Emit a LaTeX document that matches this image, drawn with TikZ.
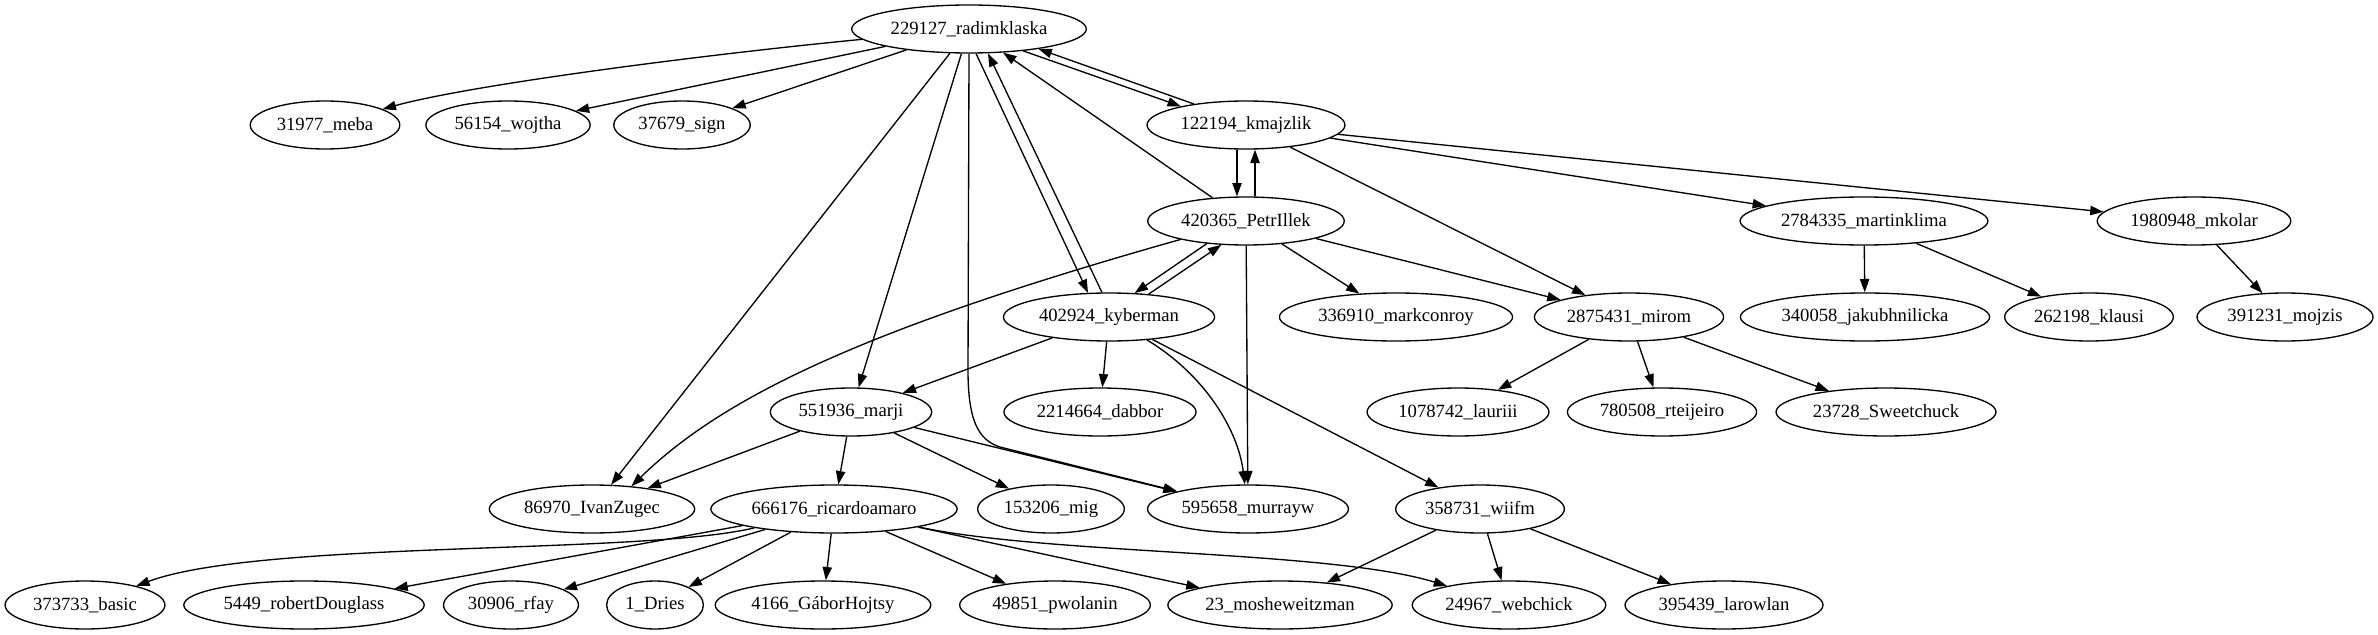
\documentclass[tikz,border=0pt]{standalone}
\usepackage{fontspec}
\setmainfont{Liberation Serif}
\usepackage{xcolor}
\usepackage{tikz}
\usetikzlibrary{
  arrows.meta,
  shapes,
  shapes.geometric,
  calc
}
\tikzset{
  user/.style={
    draw, ellipse, line width=1pt, minimum height=36pt, minimum width=54pt,
    inner xsep=3.5pt, inner ysep=2pt, font=\fontsize{14}{16}\selectfont
  },
  follows/.style={-{Triangle[length=10pt, width=7pt]}, line width=1pt}
}

\begin{document}
\begin{tikzpicture}[x=0.75pt, y=-0.75pt]
  \useasboundingbox (0,0) rectangle (2378,635);
  \node[user] (radim) at (969,29) {229127\_radimklaska};
  \node[user] (meba) at (325,125) {31977\_meba};
  \node[user] (wojtha) at (508,125) {56154\_wojtha};
  \node[user] (sign) at (682,125) {37679\_sign};
  \node[user] (kmajzlik) at (1246,125) {122194\_kmajzlik};
  \node[user] (petr) at (1246,221) {420365\_PetrIllek};
  \node[user] (martinklima) at (1864,221) {2784335\_martinklima};
  \node[user] (mkolar) at (2194,221) {1980948\_mkolar};
  \node[user] (kyberman) at (1109,317) {402924\_kyberman};
  \node[user] (markconroy) at (1396,317) {336910\_markconroy};
  \node[user] (mirom) at (1629,317) {2875431\_mirom};
  \node[user] (jakub) at (1865,317) {340058\_jakubhnilicka};
  \node[user] (klausi) at (2089,317) {262198\_klausi};
  \node[user] (mojzis) at (2285,317) {391231\_mojzis};
  \node[user] (marji) at (851,412) {551936\_marji};
  \node[user] (dabbor) at (1100,412) {2214664\_dabbor};
  \node[user] (lauriii) at (1458,412) {1078742\_lauriii};
  \node[user] (rteijeiro) at (1662,412) {780508\_rteijeiro};
  \node[user] (sweetchuck) at (1886,412) {23728\_Sweetchuck};
  \node[user] (ivan) at (592,509) {86970\_IvanZugec};
  \node[user] (ricardo) at (834,509) {666176\_ricardoamaro};
  \node[user] (mig) at (1051,509) {153206\_mig};
  \node[user] (murrayw) at (1248,509) {595658\_murrayw};
  \node[user] (wiifm) at (1480,509) {358731\_wiifm};
  \node[user] (basic) at (85,605) {373733\_basic};
  \node[user] (robert) at (304,605) {5449\_robertDouglass};
  \node[user] (rfay) at (511,605) {30906\_rfay};
  \node[user] (dries) at (655,605) {1\_Dries};
  \node[user] (gabor) at (823,605) {4166\_GáborHojtsy};
  \node[user] (pwolanin) at (1055,605) {49851\_pwolanin};
  \node[user] (moshe) at (1280,605) {23\_mosheweitzman};
  \node[user] (webchick) at (1509,605) {24967\_webchick};
  \node[user] (larowlan) at (1724,605) {395439\_larowlan};

  \draw[follows] (radim) .. controls (700,55) and (470,85) .. (meba);
  \draw[follows] (radim) -- (wojtha);
  \draw[follows] (radim) -- (sign);
  \draw[follows] (radim.-22) -- (kmajzlik.164);
  \draw[follows] (kmajzlik.158) -- (radim.-16);
  \draw[follows] (radim.-74) -- (kyberman.131);
  \draw[follows] (kyberman.106) -- (radim.-52);
  \draw[follows] (radim) -- (ivan);
  \draw[follows] (radim) -- (marji);
  \draw[follows] (radim.south) -- (968,370) .. controls (968,420) and (978,440) .. (1000,447) -- (murrayw.166);

  \draw[follows] ([xshift=-6.75pt]kmajzlik.south) -- ([xshift=-6.75pt]petr.north);
  \draw[follows] ([xshift=6.75pt]petr.north) -- ([xshift=6.75pt]kmajzlik.south);
  \draw[follows] (kmajzlik) -- (martinklima);
  \draw[follows] (kmajzlik) -- (mkolar);
  \draw[follows] (kmajzlik) -- (mirom);

  \draw[follows] (petr) -- (radim);
  \draw[follows] (petr.210) -- (kyberman.43);
  \draw[follows] (kyberman.30) -- (petr.224);
  \draw[follows] (petr) -- (markconroy);
  \draw[follows] (petr) -- (mirom);
  \draw[follows] (petr) -- (murrayw);
  \draw[follows] (petr) .. controls (870,327) and (725,395) .. (ivan.30);

  \draw[follows] (martinklima) -- (jakub);
  \draw[follows] (martinklima) -- (klausi);
  \draw[follows] (mkolar) -- (mojzis);

  \draw[follows] (kyberman) -- (marji);
  \draw[follows] (kyberman) -- (dabbor);
  \draw[follows] (kyberman) .. controls (1205,375) and (1238,430) .. (murrayw);
  \draw[follows] (kyberman) -- (wiifm);

  \draw[follows] (mirom) -- (lauriii);
  \draw[follows] (mirom) -- (rteijeiro);
  \draw[follows] (mirom) -- (sweetchuck);

  \draw[follows] (marji) -- (ivan);
  \draw[follows] (marji) -- (ricardo);
  \draw[follows] (marji) -- (mig);
  \draw[follows] (marji) -- (murrayw);

  \draw[follows] (ricardo) .. controls (640,555) and (260,540) .. (basic);
  \draw[follows] (ricardo) -- (robert);
  \draw[follows] (ricardo) -- (rfay);
  \draw[follows] (ricardo) -- (dries);
  \draw[follows] (ricardo) -- (gabor);
  \draw[follows] (ricardo) -- (pwolanin);
  \draw[follows] (ricardo) -- (moshe);
  \draw[follows] (ricardo) .. controls (1050,555) and (1330,550) .. (webchick);

  \draw[follows] (wiifm) -- (moshe);
  \draw[follows] (wiifm) -- (webchick);
  \draw[follows] (wiifm) -- (larowlan);
\end{tikzpicture}
\end{document}
